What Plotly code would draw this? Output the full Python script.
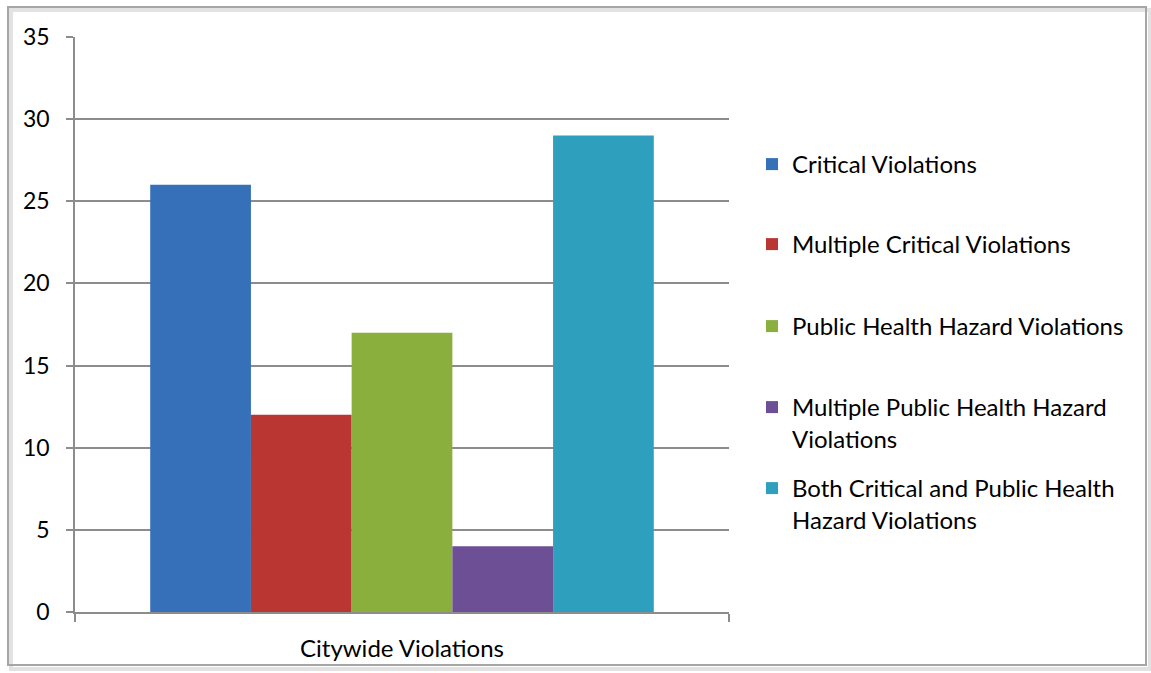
import plotly.graph_objects as go

categories = ["Citywide Violations"]
series_names = [
    "Critical Violations",
    "Multiple Critical Violations",
    "Public Health Hazard Violations",
    "Multiple Public Health Hazard<br>Violations",
    "Both Critical and Public Health<br>Hazard Violations",
]
series_values = [26, 12, 17, 4, 29]
series_colors = ["#3570B9", "#B93633", "#8BAF3D", "#6D4F96", "#2EA0BE"]
y_ticks = [0, 5, 10, 15, 20, 25, 30, 35]

W, H = 1151, 673
L, R, T, B = 75, 422, 37, 61
PW, PH = W - L - R, H - T - B

def px_x(px):
    return (px - L) / PW

def px_y(py):
    return (H - B - py) / PH

FONT = "Lato"
FS = 24

fig = go.Figure()
legend_names = ["legend", "legend2", "legend3", "legend4", "legend5"]
legend_centers = [165, 245, 327, 408, 489]
for i, (name, val, col) in enumerate(zip(series_names, series_values, series_colors)):
    fig.add_trace(go.Bar(
        x=categories, y=[val], name=name,
        marker=dict(color=col, line=dict(width=0)),
        legend=legend_names[i],
    ))

layout_legends = {}
for i, ln in enumerate(legend_names):
    layout_legends[ln] = dict(
        x=px_x(752), xanchor="left",
        y=px_y(legend_centers[i] - 23), yanchor="top",
        bgcolor="rgba(0,0,0,0)", borderwidth=0,
        font=dict(family=FONT, size=FS, color="#000000"),
        itemwidth=30, valign="top", tracegroupgap=0,
    )

fig.update_layout(
    width=W, height=H,
    margin=dict(l=L, r=R, t=T, b=B, autoexpand=False),
    paper_bgcolor="white", plot_bgcolor="white",
    barmode="group", bargap=0.23, bargroupgap=0,
    showlegend=True,
    font=dict(family=FONT, size=FS, color="#000000"),
    **layout_legends,
)
fig.update_yaxes(
    range=[0, 35], tickvals=y_ticks, ticktext=[str(v) for v in y_ticks],
    showgrid=True, gridcolor="#8C8C8C", gridwidth=1.5,
    showline=True, linecolor="#8C8C8C", linewidth=1.5,
    ticks="outside", ticklen=7, tickcolor="#8C8C8C", tickwidth=1.5,
    ticklabelstandoff=12, zeroline=False,
    tickfont=dict(family=FONT, size=23, color="#000000"),
)
fig.update_xaxes(
    showline=True, linecolor="#8C8C8C", linewidth=1.5,
    ticks="outside", tickson="boundaries", ticklen=8, tickcolor="#8C8C8C", tickwidth=1.5,
    ticklabelstandoff=14,
    tickfont=dict(family=FONT, size=FS, color="#000000"),
)

# outer chart frame with soft shadow
fig.add_shape(type="rect", xref="paper", yref="paper",
              x0=px_x(11), x1=px_x(1150), y0=px_y(669), y1=px_y(10),
              line=dict(color="#E2E2E2", width=4), fillcolor="rgba(0,0,0,0)", layer="below")
fig.add_shape(type="rect", xref="paper", yref="paper",
              x0=px_x(8), x1=px_x(1146), y0=px_y(665), y1=px_y(7),
              line=dict(color="#A6A6A6", width=2), fillcolor="rgba(0,0,0,0)", layer="below")

fig.write_html("out.html", config={"displayModeBar": False},
               post_script="document.body.style.margin='0';")
